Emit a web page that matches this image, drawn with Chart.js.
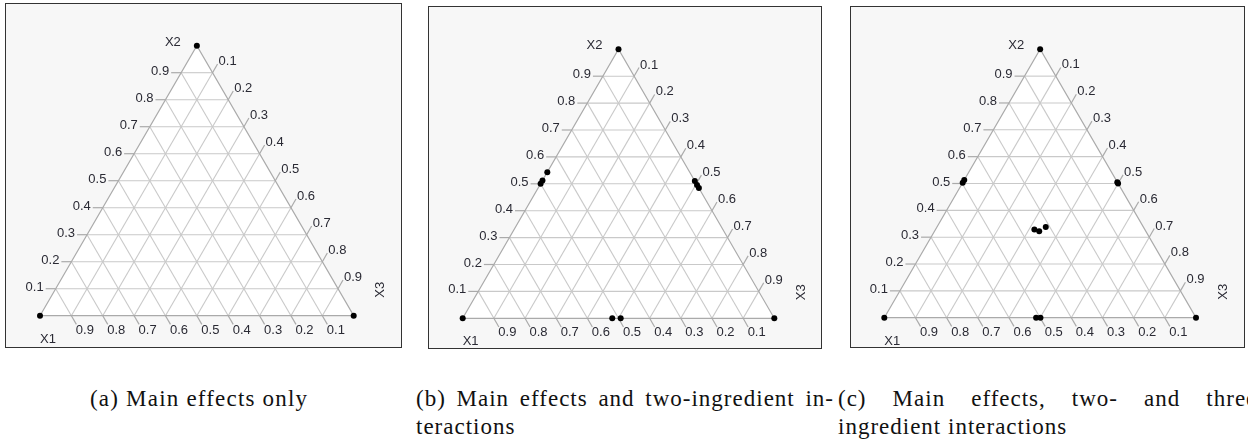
<!DOCTYPE html>
<html>
<head>
<meta charset="utf-8">
<script src="https://cdn.jsdelivr.net/npm/chart.js@4.4.1/dist/chart.umd.min.js"></script>
<style>
  html, body { margin: 0; padding: 0; background: #fff; width: 1248px; height: 441px; overflow: hidden; position: relative; }
  .panel { position: absolute; border: 1px solid #333; background: #f7f7f7; box-sizing: border-box; }
  .panel canvas { position: absolute; left: 0; top: 0; }
  .cap { position: absolute; font-family: "Liberation Serif", "Times New Roman", serif; font-size: 23px; color: #111;
         white-space: nowrap; line-height: 28px; letter-spacing: 1px; }
  .just { white-space: normal; text-align: justify; text-align-last: justify; }
</style>
</head>
<body>
<div class="panel" id="pa" style="left:5px;top:3px;width:397px;height:345px"><canvas id="ca"></canvas></div>
<div class="panel" id="pb" style="left:428px;top:6px;width:394px;height:343px"><canvas id="cb"></canvas></div>
<div class="panel" id="pc" style="left:850px;top:6px;width:395px;height:342px"><canvas id="cc"></canvas></div>

<div class="cap" style="left:90px;top:385px;letter-spacing:1.2px">(a) Main effects only</div>
<div class="cap just" style="left:416px;top:385px;width:418px">(b) Main effects and two-ingredient in-</div>
<div class="cap" style="left:416px;top:413px">teractions</div>
<div class="cap just" style="left:838px;top:385px;width:428px">(c) Main effects, two- and three-</div>
<div class="cap" style="left:838px;top:413px">ingredient interactions</div>

<script>
// Grid / tick values shared by every ternary panel
const tickValues = [0.1, 0.2, 0.3, 0.4, 0.5, 0.6, 0.7, 0.8, 0.9];
const tickLabels = ['0.1', '0.2', '0.3', '0.4', '0.5', '0.6', '0.7', '0.8', '0.9'];
const axisNames = ['X1', 'X2', 'X3'];

// (a) main effects only: pure components
const mainX1 = [1, 0, 0];
const mainX2 = [0, 1, 0];
const mainX3 = [0, 0, 1];

// (b) main effects and two-ingredient interactions
const twoWayX1 = [1, 0, 0, 0.500, 0.488, 0.457, 0, 0, 0, 0.520, 0.493];
const twoWayX2 = [0, 1, 0, 0.500, 0.512, 0.543, 0.510, 0.496, 0.484, 0, 0];
const twoWayX3 = [0, 0, 1, 0, 0, 0, 0.490, 0.504, 0.516, 0.480, 0.507];

// (c) main effects, two- and three-ingredient interactions
const threeWayX1 = [1, 0, 0, 0.497, 0.487, 0, 0, 0.513, 0.499, 0.354, 0.342, 0.313];
const threeWayX2 = [0, 1, 0, 0.503, 0.513, 0.505, 0.500, 0, 0, 0.329, 0.322, 0.338];
const threeWayX3 = [0, 0, 1, 0, 0, 0.495, 0.500, 0.487, 0.501, 0.317, 0.336, 0.349];

const H = Math.sqrt(3) / 2;

// barycentric (x1, x2, x3) -> cartesian point in the unit triangle
function toXY(a1, a2, a3) {
  return { x: a3 + a2 / 2, y: a2 * H };
}

const ternaryGrid = {
  id: 'ternaryGrid',
  beforeDatasetsDraw(chart) {
    const ctx = chart.ctx;
    const xs = chart.scales.x, ys = chart.scales.y;
    const P = (a1, a2, a3) => {
      const q = toXY(a1, a2, a3);
      return [xs.getPixelForValue(q.x), ys.getPixelForValue(q.y)];
    };
    const v1 = P(1, 0, 0), v2 = P(0, 1, 0), v3 = P(0, 0, 1);
    ctx.save();
    // white plot triangle
    ctx.fillStyle = '#ffffff';
    ctx.beginPath();
    ctx.moveTo(v1[0], v1[1]); ctx.lineTo(v2[0], v2[1]); ctx.lineTo(v3[0], v3[1]); ctx.closePath();
    ctx.fill();

    // interior grid
    ctx.strokeStyle = '#c9c9c9';
    ctx.lineWidth = 1.1;
    const seg = (a, b) => { ctx.beginPath(); ctx.moveTo(a[0], a[1]); ctx.lineTo(b[0], b[1]); ctx.stroke(); };
    tickValues.forEach(v => {
      seg(P(1 - v, v, 0), P(0, v, 1 - v));   // constant X2
      seg(P(v, 1 - v, 0), P(v, 0, 1 - v));   // constant X1
      seg(P(1 - v, 0, v), P(0, 1 - v, v));   // constant X3
    });

    // outline and ticks
    ctx.strokeStyle = '#aaaaaa';
    ctx.lineWidth = 1.2;
    ctx.beginPath();
    ctx.moveTo(v1[0], v1[1]); ctx.lineTo(v2[0], v2[1]); ctx.lineTo(v3[0], v3[1]); ctx.closePath();
    ctx.stroke();

    ctx.font = '13px "Liberation Sans", Arial, sans-serif';
    ctx.fillStyle = '#2a2a34';
    ctx.textBaseline = 'alphabetic';
    const L = 10, dx = L * 0.5, dy = L * H;
    tickValues.forEach((v, i) => {
      const lab = tickLabels[i];
      // X2 ticks on the left edge
      let p = P(1 - v, v, 0);
      seg(p, [p[0] - L, p[1]]);
      ctx.textAlign = 'right';
      ctx.fillText(lab, p[0] - L - 2, p[1] + 2);
      // X3 ticks on the right edge
      p = P(0, 1 - v, v);
      seg(p, [p[0] + dx, p[1] - dy]);
      ctx.textAlign = 'left';
      ctx.fillText(lab, p[0] + dx + 1, p[1] - dy + 1);
      // X1 ticks on the bottom edge
      p = P(v, 0, 1 - v);
      seg(p, [p[0] + dx, p[1] + dy]);
      ctx.textAlign = 'left';
      ctx.fillText(lab, p[0] + dx - 0.5, p[1] + dy + 9.5);
    });

    // vertex names
    ctx.textBaseline = 'middle';
    ctx.textAlign = 'right';
    ctx.fillText(axisNames[1], v2[0] - 16, v2[1] - 3.5);
    ctx.textAlign = 'left';
    ctx.fillText(axisNames[0], v1[0], v1[1] + 23.5);
    ctx.save();
    ctx.translate(v3[0] + 27, v3[1] - 26);
    ctx.rotate(-Math.PI / 2);
    ctx.textAlign = 'center';
    ctx.fillText(axisNames[2], 0, 0);
    ctx.restore();
    ctx.restore();
  }
};

// page-space triangle corners for each panel: left/right x of the base, base y, apex y
function makePanel(canvasId, panelId, tri, X1, X2, X3) {
  const panel = document.getElementById(panelId);
  const box = panel.getBoundingClientRect();
  const cw = box.width - 2, ch = box.height - 2;
  const ox = box.left + 1, oy = box.top + 1;
  const canvas = document.getElementById(canvasId);
  canvas.width = cw; canvas.height = ch;
  canvas.style.width = cw + 'px'; canvas.style.height = ch + 'px';
  const pts = X1.map((a1, i) => toXY(a1, X2[i], X3[i]));
  return new Chart(canvas, {
    type: 'scatter',
    data: {
      datasets: [{
        data: pts,
        pointRadius: 3,
        pointHoverRadius: 3,
        backgroundColor: '#000',
        borderColor: '#000',
        borderWidth: 0,
        clip: false
      }]
    },
    options: {
      responsive: false,
      animation: false,
      devicePixelRatio: 1,
      layout: {
        padding: {
          left: tri.xl - ox,
          right: (ox + cw) - tri.xr,
          top: tri.yt - oy,
          bottom: (oy + ch) - tri.yb
        }
      },
      scales: {
        x: { type: 'linear', min: 0, max: 1, display: false },
        y: { type: 'linear', min: 0, max: H, display: false }
      },
      plugins: { legend: { display: false }, tooltip: { enabled: false } }
    },
    plugins: [ternaryGrid]
  });
}

makePanel('ca', 'pa', { xl: 40, xr: 353.7, yb: 315.7, yt: 45.7 }, mainX1, mainX2, mainX3);
makePanel('cb', 'pb', { xl: 462.7, xr: 774.3, yb: 318.3, yt: 49.3 }, twoWayX1, twoWayX2, twoWayX3);
makePanel('cc', 'pc', { xl: 884.3, xr: 1196, yb: 317.7, yt: 49.3 }, threeWayX1, threeWayX2, threeWayX3);
</script>
</body>
</html>
